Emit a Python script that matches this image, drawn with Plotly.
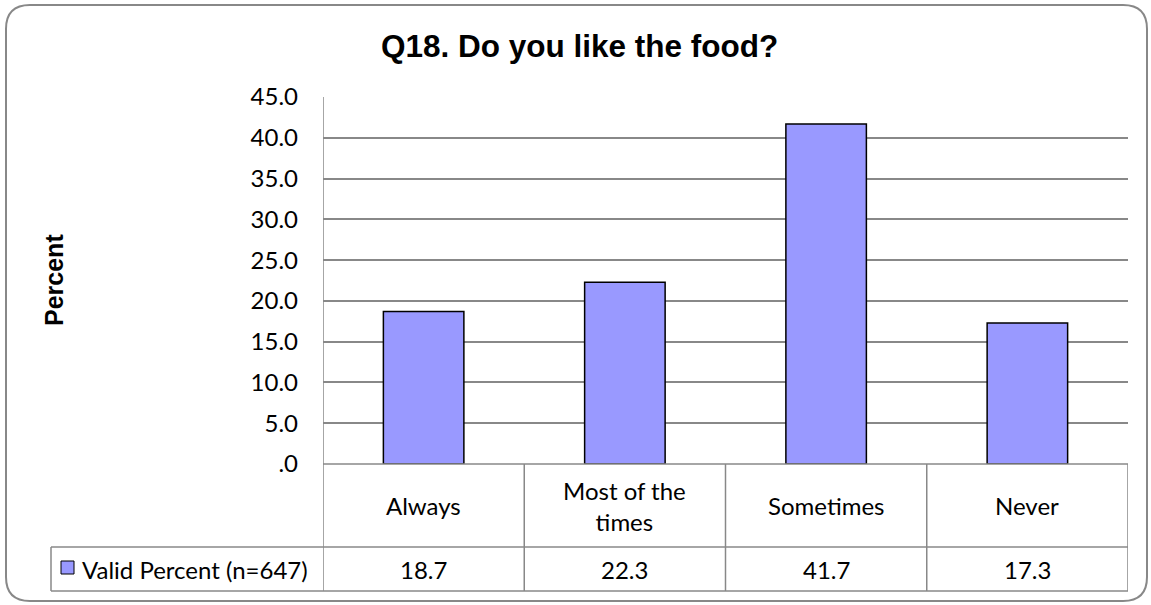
import plotly.graph_objects as go

categories = ["Always", "Most of the times", "Sometimes", "Never"]
category_labels = ["Always", "Most of the<br>times", "Sometimes", "Never"]
values = [18.7, 22.3, 41.7, 17.3]
series_name = "Valid Percent (n=647)"
y_ticks = [0, 5, 10, 15, 20, 25, 30, 35, 40, 45]
y_tick_text = [f"{v:.1f}".lstrip("0") if v < 1 else f"{v:.1f}" for v in y_ticks]
title_text = "Q18. Do you like the food?"
y_title = "Percent"

W, H = 1151, 605
def X(px): return px / W
def Y(py): return 1 - py / H

PL, PR, PT, PB = 323, 1128, 97, 464   # plot area in pixels
ROW1 = 547   # bottom of category row
ROW2 = 591   # bottom of value row
LEG_L = 51   # left of legend cell

BAR = "#9999FF"
GRID = "#888888"
LBL_FONT = "Lato"
LBL_SIZE = 24

fig = go.Figure()
fig.add_trace(go.Bar(
    x=categories, y=values, name=series_name,
    marker=dict(color=BAR, line=dict(color="black", width=1.5)),
    width=0.4, showlegend=False, hoverinfo="skip",
))

shapes = []
# outer rounded border
x0, y0, x1, y1, r = 6, 5, 1147, 601, 24
rx, ry = r / W, r / H
a, b, c, d = X(x0), Y(y0), X(x1), Y(y1)
path = (f"M {a+rx},{b} L {c-rx},{b} Q {c},{b} {c},{b-ry} L {c},{d+ry} "
        f"Q {c},{d} {c-rx},{d} L {a+rx},{d} Q {a},{d} {a},{d+ry} L {a},{b-ry} "
        f"Q {a},{b} {a+rx},{b} Z")
shapes.append(dict(type="path", path=path, xref="paper", yref="paper",
                   line=dict(color=GRID, width=2), layer="below"))

line_style = dict(color=GRID, width=1.5)
n = len(categories)
# table horizontal lines
shapes.append(dict(type="line", xref="x", yref="paper", x0=-0.5, x1=n - 0.5,
                   y0=Y(PB), y1=Y(PB), line=line_style))
for py in (ROW1, ROW2):
    shapes.append(dict(type="line", xref="paper", yref="paper", x0=X(LEG_L), x1=X(PR),
                       y0=Y(py), y1=Y(py), line=line_style))
# vertical axis line continuing through table
shapes.append(dict(type="line", xref="x", yref="paper", x0=-0.5, x1=-0.5,
                   y0=Y(PT), y1=Y(ROW2), line=line_style))
# column separators
for i in range(n):
    xb = i + 0.5
    shapes.append(dict(type="line", xref="x", yref="paper", x0=xb, x1=xb,
                       y0=Y(PB), y1=Y(ROW2), line=line_style))
# legend cell left edge
shapes.append(dict(type="line", xref="paper", yref="paper", x0=X(LEG_L), x1=X(LEG_L),
                   y0=Y(ROW1), y1=Y(ROW2), line=line_style))
# legend key
shapes.append(dict(type="rect", xref="paper", yref="paper", x0=X(61), x1=X(74),
                   y0=Y(574), y1=Y(561), fillcolor=BAR, line=dict(color="black", width=1)))

annotations = []
for i, (lab, v) in enumerate(zip(category_labels, values)):
    annotations.append(dict(x=i, xref="x", y=Y((PB + ROW1) / 2), yref="paper",
                            text=lab, showarrow=False, xanchor="center", yanchor="middle",
                            font=dict(family=LBL_FONT, size=LBL_SIZE, color="black")))
    annotations.append(dict(x=i, xref="x", y=Y((ROW1 + ROW2) / 2), yref="paper",
                            text=f"{v:.1f}", showarrow=False, xanchor="center", yanchor="middle",
                            font=dict(family=LBL_FONT, size=LBL_SIZE, color="black")))
annotations.append(dict(x=X(80), xref="paper", y=Y((ROW1 + ROW2) / 2), yref="paper",
                        text=series_name, showarrow=False, xanchor="left", yanchor="middle",
                        font=dict(family=LBL_FONT, size=LBL_SIZE, color="black")))
annotations.append(dict(x=X(579), xref="paper", y=Y(46), yref="paper",
                        text=f"<b>{title_text}</b>", showarrow=False, xanchor="center",
                        yanchor="middle",
                        font=dict(family="Liberation Sans", size=31.5, color="black")))
annotations.append(dict(x=X(54), xref="paper", y=Y(280), yref="paper",
                        text=f"<b>{y_title}</b>", showarrow=False, textangle=-90,
                        xanchor="center", yanchor="middle",
                        font=dict(family="Liberation Sans", size=25, color="black")))

fig.update_layout(
    width=W, height=H, autosize=False,
    margin=dict(l=0, r=0, t=0, b=0, pad=0),
    paper_bgcolor="white", plot_bgcolor="white",
    xaxis=dict(domain=[X(PL), X(PR)], range=[-0.5, n - 0.5], showticklabels=False,
               showgrid=False, zeroline=False, showline=False, ticks="", automargin=False),
    yaxis=dict(domain=[Y(PB), Y(PT)], range=[0, 45], tickvals=y_ticks, ticktext=y_tick_text,
               showgrid=True, gridcolor=GRID, gridwidth=1.5, zeroline=False, showline=False,
               ticks="", ticklabelstandoff=24, automargin=False,
               tickfont=dict(family=LBL_FONT, size=LBL_SIZE, color="black")),
    shapes=shapes, annotations=annotations,
    bargap=0.6,
)

fig.write_html("out.html")
